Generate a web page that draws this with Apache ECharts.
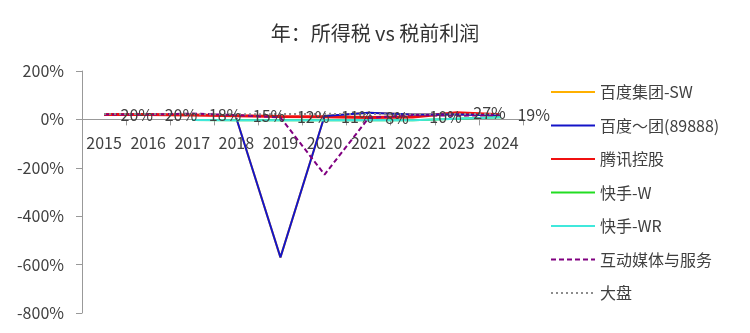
<!DOCTYPE html>
<html>
<head>
<meta charset="utf-8">
<script src="https://cdn.jsdelivr.net/npm/echarts@6/dist/echarts.min.js"></script>
<style>html,body{margin:0;padding:0;background:#fff}#c{width:750px;height:333px}</style>
</head>
<body>
<div id="c"></div>
<script>
const categories = ['2015','2016','2017','2018','2019','2020','2021','2022','2023','2024'];
const yTicks = [-800,-600,-400,-200,0,200];
const baiduSW   = [null,null,null,5,-570,14,27,20,20,16];
const baiduSWR  = [null,null,null,5,-570,14,27,20,20,16];
const tencent   = [20,20,18,15,12,11,8,10,27,19];
const kuaishouW = [null,null,-2,-3,-4,-3,-2,-4,3,9];
const kuaishouWR= [null,null,-2,-3,-4,-3,-2,-4,3,9];
const industry  = [20,20,24,18,8,-228,6,18,15,18];
const market    = [22,22,21,21,22,23,22,21,22,22];

const FONT = '"Noto Sans CJK SC", "Noto Sans", sans-serif';
const TXT = '#404040';
const GRID_TOP = 71, GRID_BOTTOM = 20, H = 333;
const plotH = H - GRID_TOP - GRID_BOTTOM;
const yMin = yTicks[0], yMax = yTicks[yTicks.length - 1];
const zeroOffset = -plotH * (0 - yMin) / (yMax - yMin);

function mk(name, data, color, width, type, extra) {
  return Object.assign({
    name, type: 'line', data, symbol: 'circle', symbolSize: 1, showSymbol: true,
    connectNulls: false,
    lineStyle: { color, width, type: type || 'solid' },
    itemStyle: { color: 'rgba(0,0,0,0)', borderWidth: 0 }
  }, extra || {});
}

const chart = echarts.init(document.getElementById('c'), null, { renderer: 'canvas' });
chart.setOption({
  animation: false,
  textStyle: { fontFamily: FONT },
  title: {
    text: '年：所得税 vs 税前利润',
    left: 'center', top: 18,
    textStyle: { fontFamily: FONT, fontSize: 20, fontWeight: 'normal', color: '#333' }
  },
  legend: {
    orient: 'vertical', left: 545, top: 79,
    itemWidth: 44, itemHeight: 10, itemGap: 17.5,
    itemStyle: { opacity: 0 },
    textStyle: { fontFamily: FONT, fontSize: 16, color: TXT },
    data: ['百度集团-SW','百度～团(89888)','腾讯控股','快手-W','快手-WR','互动媒体与服务','大盘']
  },
  grid: { left: 82, right: 227, top: GRID_TOP, bottom: GRID_BOTTOM, containLabel: false },
  xAxis: {
    type: 'category', data: categories, boundaryGap: true, position: 'bottom',
    offset: zeroOffset,
    axisLine: { onZero: false, lineStyle: { color: '#999', width: 1 } },
    axisTick: { show: true, inside: false, length: 6, alignWithLabel: false, lineStyle: { color: '#999' } },
    axisLabel: { fontFamily: FONT, fontSize: 16, color: TXT, margin: 16, interval: 0 },
    splitLine: { show: false }
  },
  yAxis: {
    type: 'value', min: yMin, max: yMax, interval: 200,
    axisLine: { show: true, lineStyle: { color: '#999', width: 1 } },
    axisTick: { show: true, length: 6, lineStyle: { color: '#999' } },
    axisLabel: { fontFamily: FONT, fontSize: 16, color: TXT, margin: 18, formatter: '{value}%' },
    splitLine: { show: false }
  },
  series: [
    mk('百度集团-SW', baiduSW, '#FFB000', 2),
    mk('腾讯控股', tencent, '#F01010', 3, 'solid', {
      label: {
        show: true, position: 'right', distance: 16,
        formatter: p => p.value + '%',
        fontFamily: FONT, fontSize: 16, color: TXT
      }
    }),
    mk('百度～团(89888)', baiduSWR, '#1414C8', 2),
    mk('快手-W', kuaishouW, '#22DD22', 2),
    mk('快手-WR', kuaishouWR, '#40E8DC', 2),
    mk('互动媒体与服务', industry, '#800080', 2, [5, 3]),
    mk('大盘', market, '#8C8C8C', 2, [2, 3])
  ]
});
</script>
</body>
</html>
